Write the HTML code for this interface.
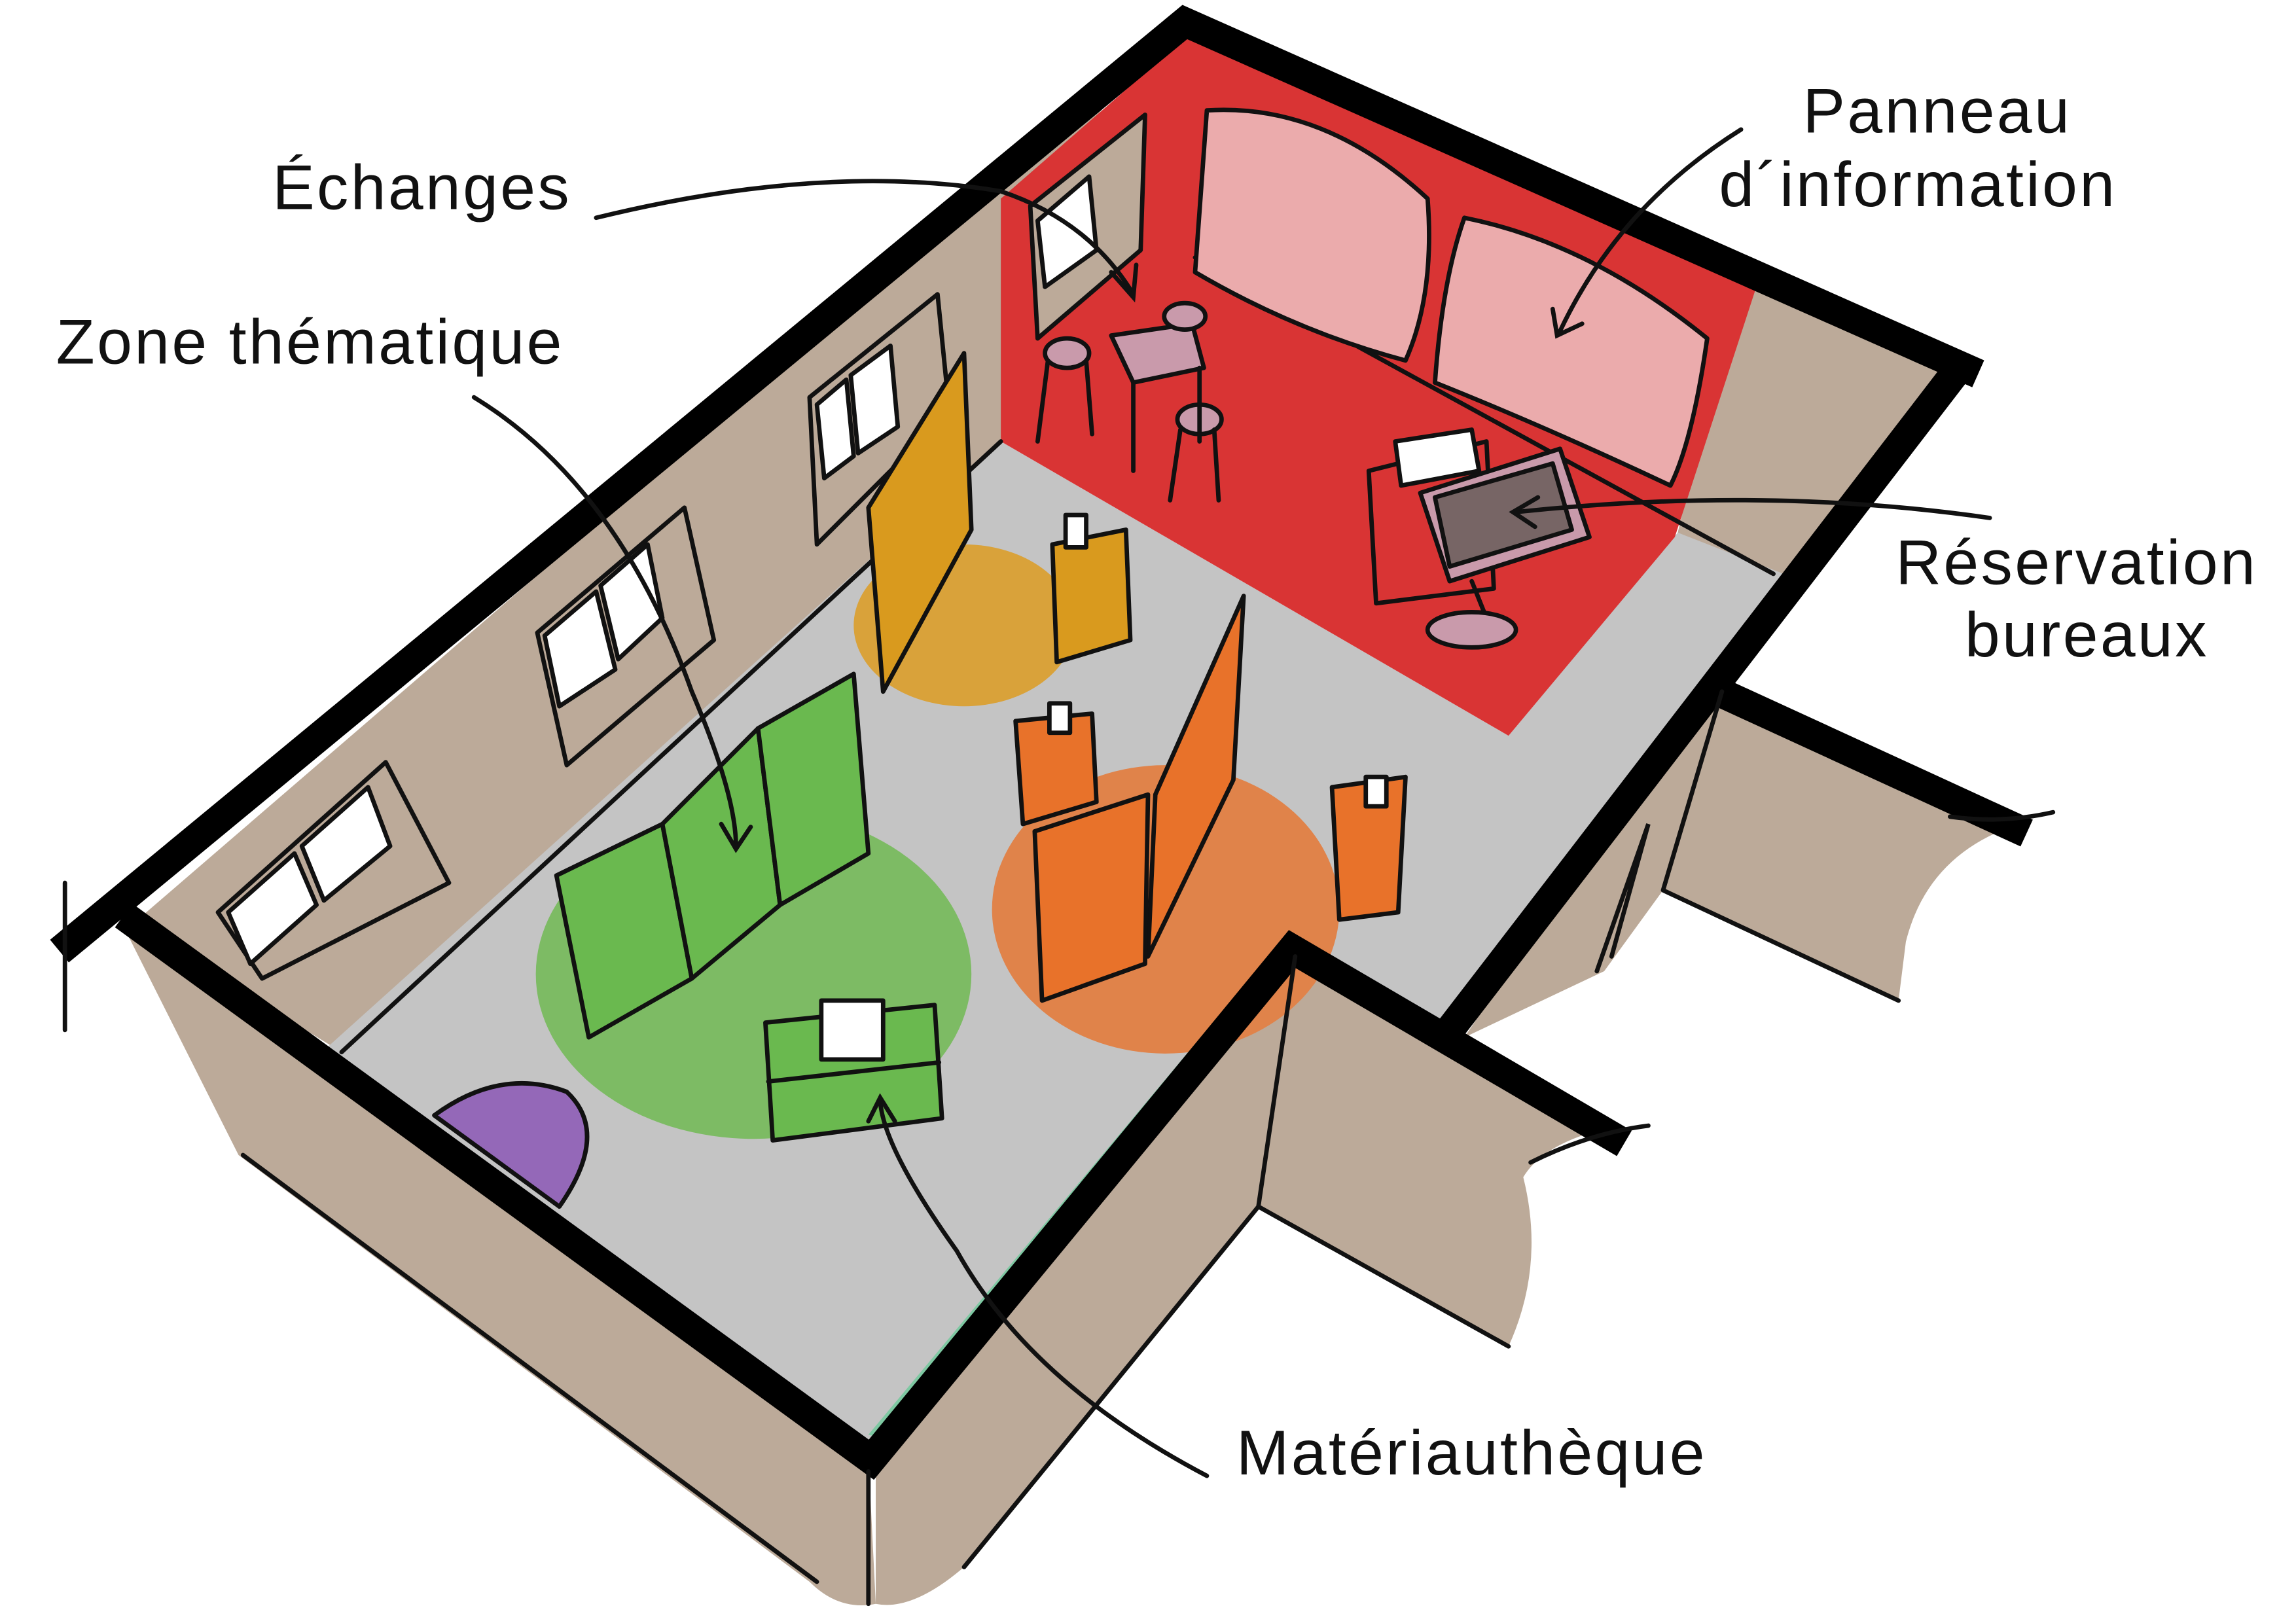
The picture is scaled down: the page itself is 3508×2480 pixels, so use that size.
<!DOCTYPE html>
<html><head><meta charset="utf-8"><style>
html,body{margin:0;padding:0;background:#fff;width:3508px;height:2480px;overflow:hidden}
svg{display:block}
text{font-family:"Liberation Sans",sans-serif;font-size:43px;letter-spacing:1.5px;fill:#111}
</style></head><body>
<svg width="3508" height="2480" viewBox="0 0 1560 1103" xmlns="http://www.w3.org/2000/svg">
<g stroke="#111" stroke-width="3" stroke-linejoin="round" stroke-linecap="round">
<!-- exterior walls -->
<path d="M80,622 L590,990 L595,1090 Q570,1095 550,1075 L162,785 Z" fill="#bcaa99" stroke="none"/>
<path d="M595,995 L878,636 L1100,765 Q1050,775 1035,800 Q1050,860 1025,915 L855,820 L655,1065 Q620,1095 595,1090 Z" fill="#bcaa99" stroke="none"/>
<path d="M1170,465 L1372,560 Q1310,580 1295,640 L1290,680 L1130,605 Z" fill="#bcaa99" stroke="none"/>
<path d="M1180,190 L1340,245 L1175,465 L1130,605 L1090,660 L995,705 L1205,390 L1140,362 Z" fill="#bcaa99" stroke="none"/>
<!-- inner left wall -->
<path d="M90,628 L805,12 L690,140 L680,300 L232,715 Z" fill="#bcaa99" stroke="none"/>
<!-- floor -->
<path d="M222,712 L680,300 L1025,500 L1140,362 L1212,390 L990,700 L875,640 L590,985 Z" fill="#c4c4c4" stroke="none"/>
<!-- red zone -->
<path d="M680,135 L812,20 L1195,190 L1138,365 L1025,500 L680,300 Z" fill="#d93434" stroke="none"/>
<!-- colour blobs -->
<ellipse cx="655" cy="425" rx="75" ry="55" fill="#d9a23a" stroke="none"/>
<ellipse cx="512" cy="662" rx="148" ry="112" fill="#7dbb64" stroke="none"/>
<ellipse cx="792" cy="618" rx="118" ry="98" fill="#e0834a" stroke="none"/>
<path d="M295,758 Q340,725 385,742 Q415,770 380,820 Z" fill="#9468b8"/>
<path d="M590,975 L870,640 L878,650 L600,978 Z" fill="#7ec8a2" stroke="none"/>
<!-- windows -->
<g fill="#fff">
<path d="M148,620 L262,518 L305,600 L178,665 Z" fill="#bcaa99"/>
<path d="M155,620 L200,580 L215,615 L170,655 Z"/><path d="M205,575 L250,535 L265,575 L220,612 Z"/>
<path d="M365,430 L465,345 L485,435 L385,520 Z" fill="#bcaa99"/>
<path d="M370,432 L405,402 L418,455 L380,480 Z"/><path d="M408,398 L440,370 L450,420 L420,448 Z"/>
<path d="M550,270 L637,200 L645,280 L555,370 Z" fill="#bcaa99"/>
<path d="M555,275 L575,258 L580,310 L560,325 Z"/><path d="M578,255 L605,235 L610,290 L583,308 Z"/>
<path d="M700,140 L778,78 L775,170 L705,230 Z" fill="#bcaa99"/>
<path d="M705,150 L740,120 L745,170 L710,195 Z"/>
</g>
<!-- wall lines -->
<path d="M232,715 L680,300" fill="none"/>
<path d="M812,175 L1205,390" fill="none"/>
<!-- pink boards -->
<path d="M820,75 Q900,70 970,135 Q975,200 955,245 Q880,225 812,185 Z" fill="#ebabac"/>
<path d="M995,148 Q1080,165 1160,230 Q1150,300 1135,330 Q1050,290 975,260 Q980,190 995,148 Z" fill="#ebabac"/>
<!-- yellow panel -->
<path d="M590,345 L655,240 L660,360 L600,470 Z" fill="#d99a1e"/>
<path d="M715,370 L765,360 L768,435 L718,450 Z" fill="#d99a1e"/>
<rect x="724" y="350" width="14" height="22" fill="#fff"/>
<!-- green panels -->
<path d="M378,595 L450,560 L470,665 L400,705 Z" fill="#6ab94f"/>
<path d="M450,560 L515,495 L530,615 L470,665 Z" fill="#6ab94f"/>
<path d="M515,495 L580,458 L590,580 L530,615 Z" fill="#6ab94f"/>
<path d="M520,695 L635,683 L640,760 L525,775 Z" fill="#6ab94f"/>
<path d="M522,735 L638,722" fill="none"/>
<rect x="558" y="680" width="42" height="40" fill="#fff"/>
<!-- orange -->
<path d="M690,490 L742,485 L745,545 L695,560 Z" fill="#e8722a"/>
<rect x="713" y="478" width="14" height="20" fill="#fff"/>
<path d="M785,540 L845,405 L838,530 L780,650 Z" fill="#e8722a"/>
<path d="M703,565 L780,540 L778,655 L708,680 Z" fill="#e8722a"/>
<path d="M905,535 L955,528 L950,620 L910,625 Z" fill="#e8722a"/>
<rect x="928" y="528" width="14" height="20" fill="#fff"/>
<!-- stools & table -->
<path d="M755,228 L810,220 L818,250 L770,260 Z" fill="#c99aab"/>
<ellipse cx="725" cy="240" rx="15" ry="10" fill="#c99aab"/>
<ellipse cx="805" cy="215" rx="14" ry="9" fill="#c99aab"/>
<ellipse cx="815" cy="285" rx="15" ry="10" fill="#c99aab"/>
<path d="M712,245 L705,300 M738,245 L742,295 M802,292 L795,340 M825,292 L828,340 M770,260 L770,320 M815,250 L815,300" fill="none"/>
<!-- kiosk -->
<path d="M930,320 L1010,300 L1015,400 L935,410 Z" fill="#d93434"/>
<path d="M948,300 L1000,292 L1005,320 L952,330 Z" fill="#fff"/>
<path d="M965,335 L1060,305 L1080,365 L985,395 Z" fill="#c99aab"/>
<path d="M975,338 L1055,315 L1068,360 L985,385 Z" fill="#776565"/>
<path d="M1000,395 L1010,420" fill="none"/>
<ellipse cx="1000" cy="428" rx="30" ry="12" fill="#c99aab"/>
</g>
<!-- thick walls -->
<g fill="none" stroke="#000" stroke-width="20" stroke-linejoin="miter" stroke-linecap="square">
<polyline points="48,640 805,15 1335,250"/>
<polyline points="92,628 592,992 878,645 1095,772"/>
<polyline points="1325,258 985,700"/>
<polyline points="1172,472 1368,562"/>
</g>
<g fill="none" stroke="#111" stroke-width="3" stroke-linecap="round">
<path d="M44,600 L44,700 M165,785 L555,1075 M590,1000 L590,1090 M880,650 L855,820 L1025,915 M855,820 L655,1065 M1130,605 L1290,680 M1170,470 L1130,605 M1325,555 Q1360,560 1395,552 M1040,790 Q1080,770 1120,765 M1085,660 L1120,560 L1095,650"/>
<!-- leader arrows -->
<path d="M405,148 Q560,110 680,130 Q740,150 770,200"/><path d="M755,185 L770,202 L772,180"/>
<path d="M322,270 Q420,330 470,470 Q500,540 500,575"/><path d="M490,560 L500,577 L510,562"/>
<path d="M1183,88 Q1100,140 1060,225"/><path d="M1055,210 L1058,228 L1075,220"/>
<path d="M1352,352 Q1200,330 1030,348"/><path d="M1045,338 L1028,348 L1043,358"/>
<path d="M820,1003 Q700,940 650,850 Q600,780 598,748"/><path d="M590,762 L598,746 L608,762"/>
</g>
<text x="185" y="142">Échanges</text>
<text x="38" y="247">Zone thématique</text>
<text x="1225" y="90">Panneau</text>
<text x="1168" y="140">d´information</text>
<text x="1288" y="397">Réservation</text>
<text x="1335" y="446">bureaux</text>
<text x="840" y="1002">Matériauthèque</text>
</svg>
</body></html>
